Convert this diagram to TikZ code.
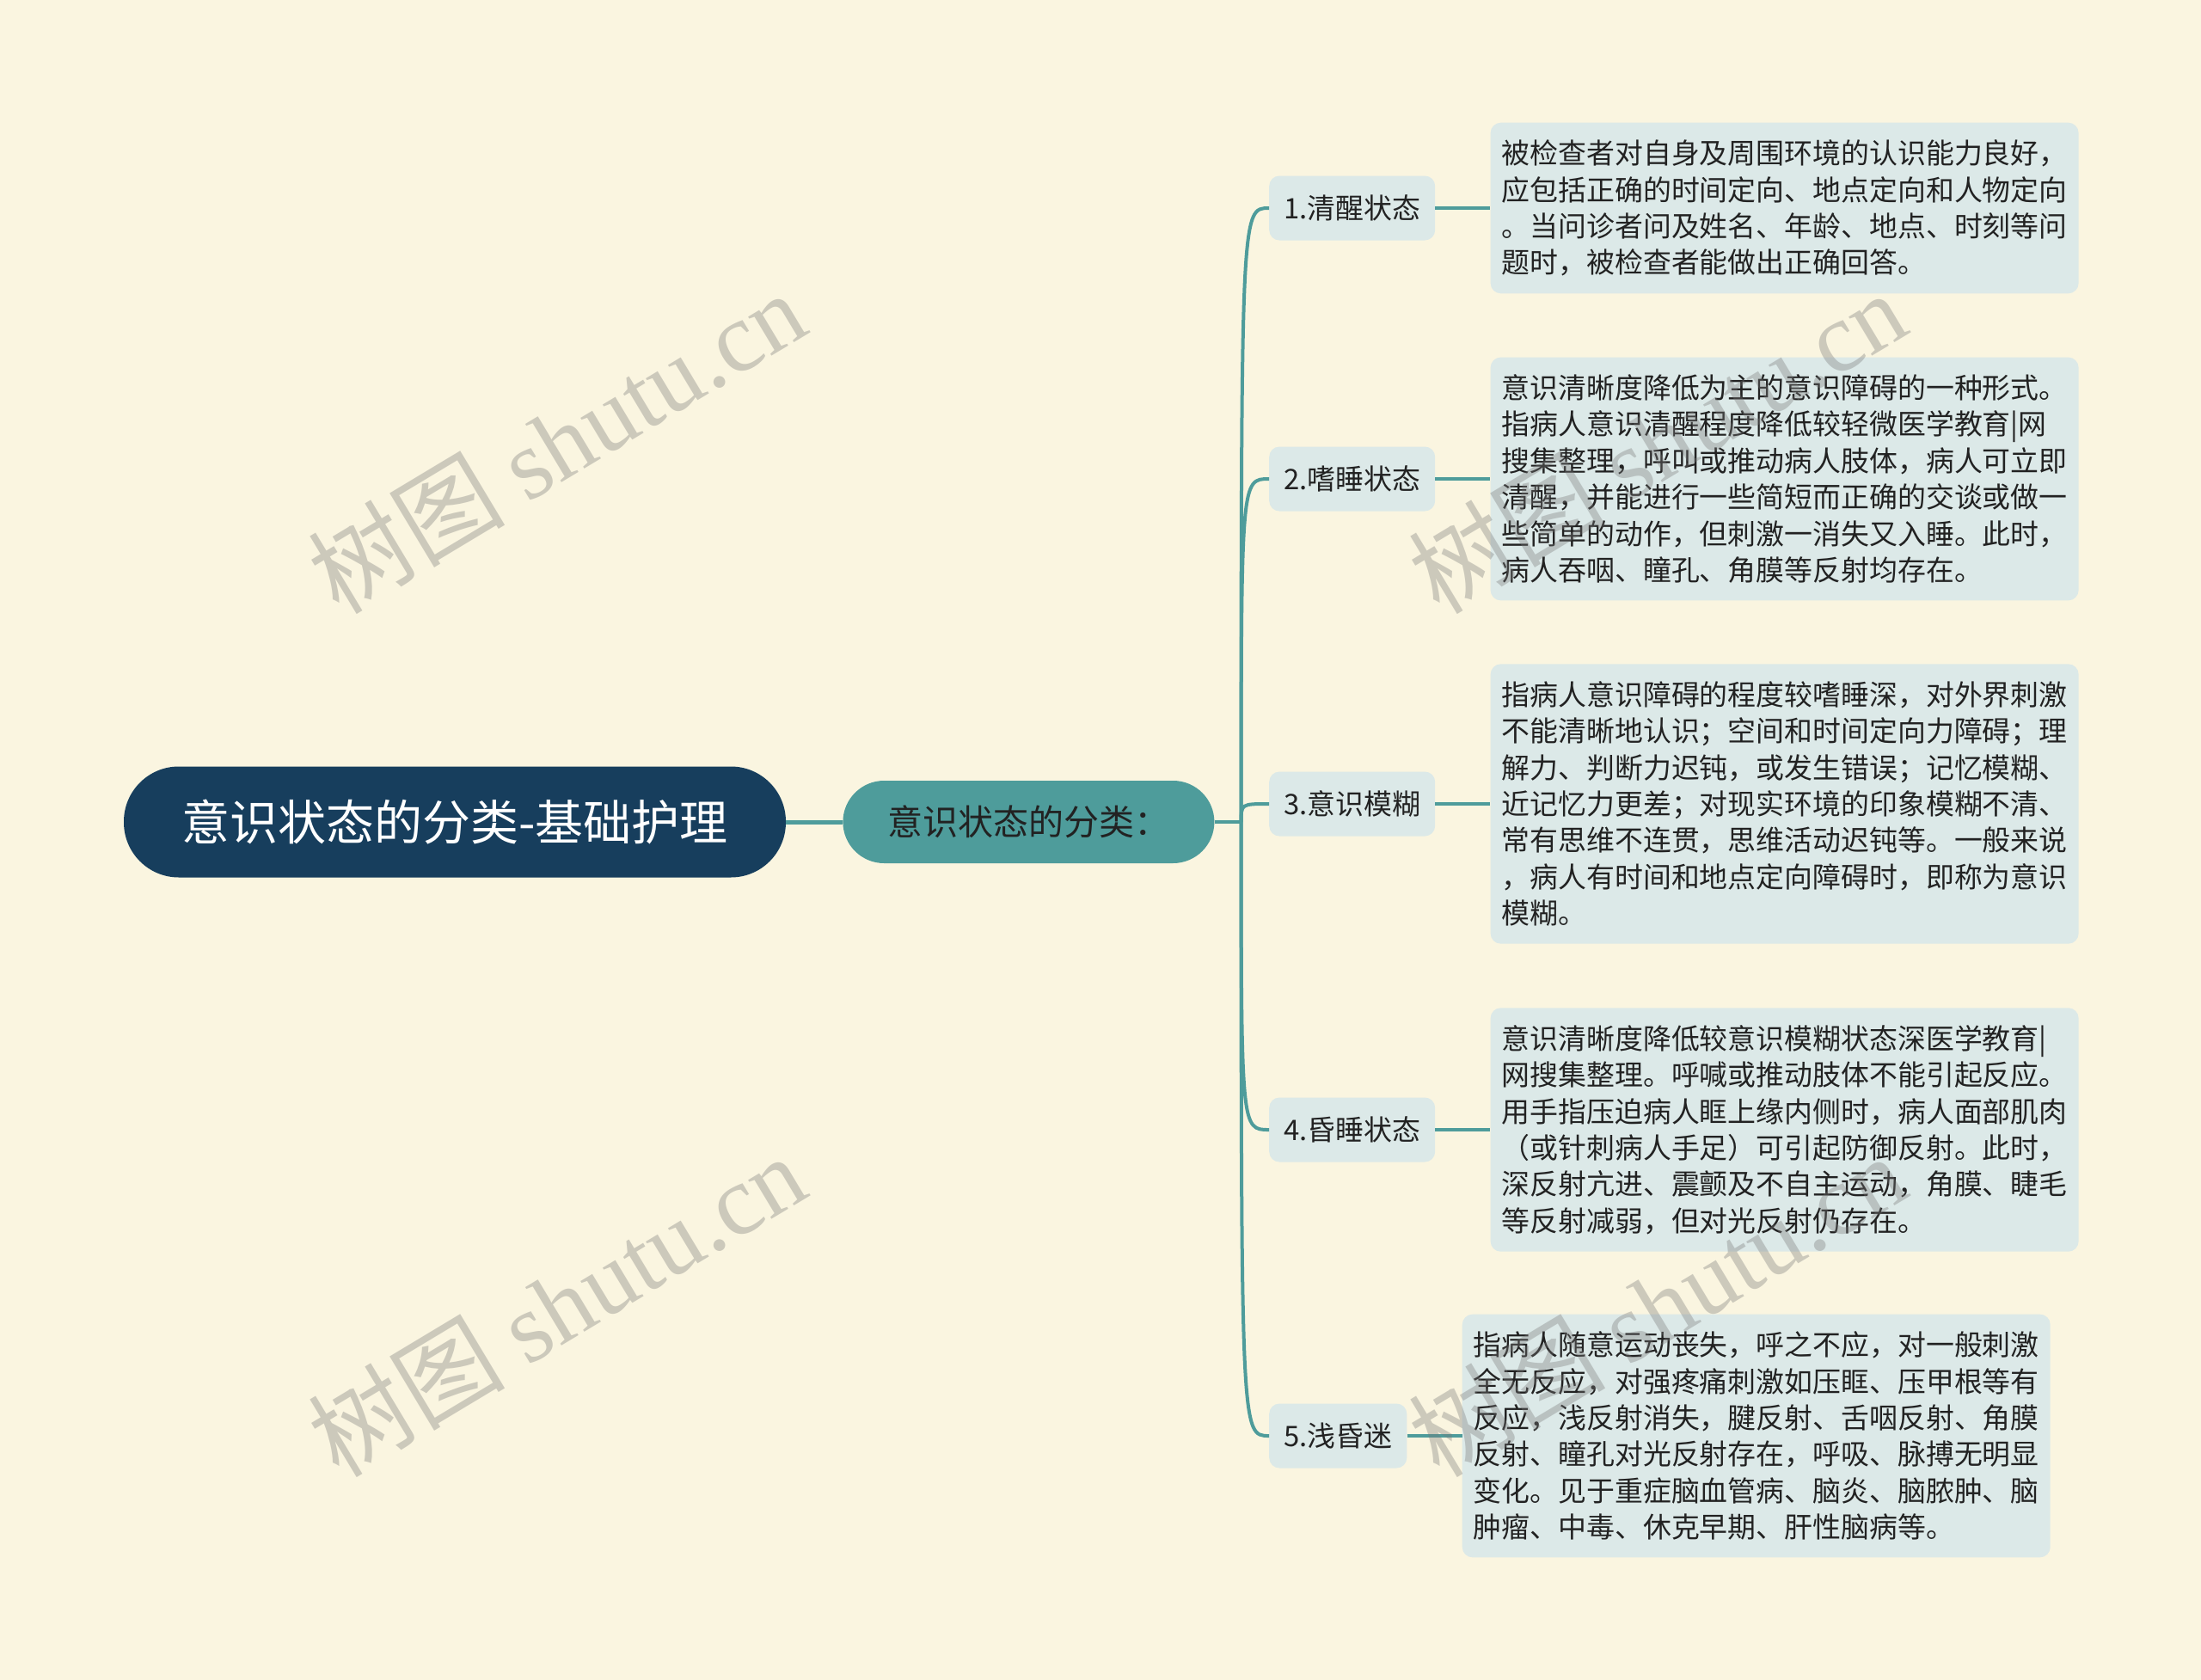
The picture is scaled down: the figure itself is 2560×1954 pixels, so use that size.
\documentclass[tikz,border=0pt]{standalone}
\usepackage{fontspec}
\setmainfont{Noto Sans CJK SC}
\newfontfamily\wmfont{Liberation Serif}
\usepackage{tikz}
\usetikzlibrary{positioning}
\definecolor{bgcream}{RGB}{250,245,224}
\definecolor{navy}{RGB}{23,62,93}
\definecolor{tealx}{RGB}{78,156,155}
\definecolor{pale}{RGB}{220,233,232}
\definecolor{ink}{RGB}{34,34,34}
\tikzstyle{topic}=[rectangle,rounded corners=64pt,fill=navy,text=white,minimum width=770pt,minimum height=129pt,font=\fontsize{56}{60}\selectfont]
\tikzstyle{subtopic}=[rectangle,rounded corners=48pt,fill=tealx,text=ink,minimum width=432pt,minimum height=96pt,font=\fontsize{41}{46}\selectfont]
\tikzstyle{stage}=[rectangle,rounded corners=12pt,fill=pale,text=ink,anchor=west,minimum height=75pt,inner xsep=17pt,font=\fontsize{32.9}{42.4}\selectfont]
\tikzstyle{detail}=[rectangle,rounded corners=12pt,fill=pale,text=ink,text width=658pt,align=left,inner xsep=13pt,inner ysep=20pt,font=\fontsize{32.9}{42.4}\selectfont]
\tikzstyle{link}=[tealx,line width=4pt]
\tikzstyle{wmk}=[rotate=31,text=black!53,opacity=.35,font=\fontsize{115}{115}\selectfont]

\begin{document}
\begin{tikzpicture}[x=1pt,y=-1pt]

    % Hintergrund
    \fill[bgcream] (0,0) rectangle (2560,1954);
    \useasboundingbox (0,0) rectangle (2560,1954);

    % Knoten
    \node[topic] (root) at (529,956) {意识状态的分类-基础护理};
    \node[subtopic] (sub) [right=66pt of root] {意识状态的分类：};
    \coordinate [right=31pt of sub] (hub);

    \node[stage] (st1) at (1476,242) {1.清醒状态};
    \node[stage] (st2) at (1476,557) {2.嗜睡状态};
    \node[stage] (st3) at (1476,935) {3.意识模糊};
    \node[stage] (st4) at (1476,1314) {4.昏睡状态};
    \node[stage] (st5) at (1476,1670) {5.浅昏迷};

    \node[detail] (dt1) [right=64pt of st1] {被检查者对自身及周围环境的认识能力良好，\\应包括正确的时间定向、地点定向和人物定向\\。当问诊者问及姓名、年龄、地点、时刻等问\\题时，被检查者能做出正确回答。};
    \node[detail] (dt2) [right=64pt of st2] {意识清晰度降低为主的意识障碍的一种形式。\\指病人意识清醒程度降低较轻微医学教育|网\\搜集整理，呼叫或推动病人肢体，病人可立即\\清醒，并能进行一些简短而正确的交谈或做一\\些简单的动作，但刺激一消失又入睡。此时，\\病人吞咽、瞳孔、角膜等反射均存在。};
    \node[detail] (dt3) [right=64pt of st3] {指病人意识障碍的程度较嗜睡深，对外界刺激\\不能清晰地认识；空间和时间定向力障碍；理\\解力、判断力迟钝，或发生错误；记忆模糊、\\近记忆力更差；对现实环境的印象模糊不清、\\常有思维不连贯，思维活动迟钝等。一般来说\\，病人有时间和地点定向障碍时，即称为意识\\模糊。};
    \node[detail] (dt4) [right=64pt of st4] {意识清晰度降低较意识模糊状态深医学教育|\\网搜集整理。呼喊或推动肢体不能引起反应。\\用手指压迫病人眶上缘内侧时，病人面部肌肉\\（或针刺病人手足）可引起防御反射。此时，\\深反射亢进、震颤及不自主运动，角膜、睫毛\\等反射减弱，但对光反射仍存在。};
    \node[detail] (dt5) [right=64pt of st5] {指病人随意运动丧失，呼之不应，对一般刺激\\全无反应，对强疼痛刺激如压眶、压甲根等有\\反应，浅反射消失，腱反射、舌咽反射、角膜\\反射、瞳孔对光反射存在，呼吸、脉搏无明显\\变化。见于重症脑血管病、脑炎、脑脓肿、脑\\肿瘤、中毒、休克早期、肝性脑病等。};

    % Verbindungen
    \draw [link,line width=5pt] (root) -- (sub);
    \draw [link] (sub) -- (hub);
    \foreach \i in {1,...,5} {
        \draw [link] (hub) .. controls (hub |- st\i.west) .. (st\i.west);
        \draw [link] (st\i) -- (dt\i);
    }

    % Wasserzeichen
    \node[wmk] (wm1) at (647,514) {树图 {\wmfont shutu.cn}};
    \node[wmk] (wm2) at (647,1518) {树图 {\wmfont shutu.cn}};
    \node[wmk] (wm3) at (1927,514) {树图 {\wmfont shutu.cn}};
    \node[wmk] (wm4) at (1927,1518) {树图 {\wmfont shutu.cn}};

\end{tikzpicture}
\end{document}
